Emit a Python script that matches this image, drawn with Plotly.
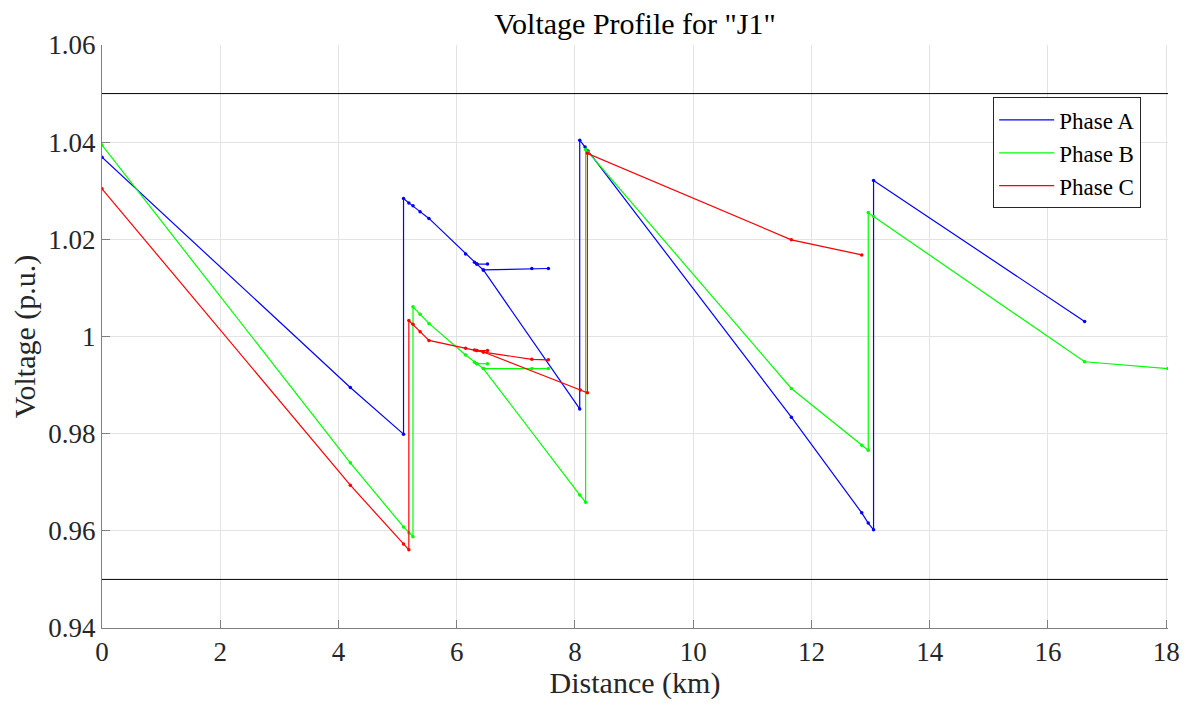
import plotly.graph_objects as go

# ---------------- data (distance km, voltage p.u.) ----------------
a_main_dist = [0, 4.20, 5.10, 5.10, 5.19, 5.26, 5.38, 5.53, 6.15, 6.30, 6.34, 6.45, 8.08, 8.08, 8.17, 8.22,
               11.66, 12.85, 12.96, 13.05, 13.05, 16.62]
a_main_volt = [1.0369, 0.9895, 0.9799, 1.0284, 1.0275, 1.0269, 1.0257, 1.0243, 1.0170, 1.0153, 1.0149, 1.0137,
               0.9851, 1.0404, 1.0390, 1.0382, 0.9834, 0.9637, 0.9616, 0.9602, 1.0321, 1.0031]
a_br1_dist = [6.34, 6.52]
a_br1_volt = [1.0149, 1.0149]
a_br2_dist = [6.45, 7.27, 7.55]
a_br2_volt = [1.0137, 1.0140, 1.0140]

b_main_dist = [0, 4.20, 5.10, 5.19, 5.26, 5.26, 5.38, 5.53, 6.15, 6.30, 6.34, 6.45, 8.08, 8.18, 8.18, 8.22,
               11.66, 12.85, 12.96, 12.96, 13.05, 16.62, 18.03]
b_main_volt = [1.0394, 0.9740, 0.9608, 0.9596, 0.9588, 1.0061, 1.0046, 1.0027, 0.9962, 0.9947, 0.9944, 0.9934,
               0.9674, 0.9659, 1.0385, 1.0380, 0.9893, 0.9776, 0.9766, 1.0255, 1.0247, 0.9948, 0.9934]
b_br1_dist = [6.34, 6.52]
b_br1_volt = [0.9944, 0.9944]
b_br2_dist = [6.45, 7.27, 7.55]
b_br2_volt = [0.9934, 0.9934, 0.9934]

c_main_dist = [0, 4.20, 5.10, 5.19, 5.19, 5.26, 5.38, 5.53, 6.15, 6.30, 6.34, 6.45, 8.09, 8.21, 8.21,
               11.66, 12.85]
c_main_volt = [1.0304, 0.9694, 0.9573, 0.9561, 1.0033, 1.0025, 1.0010, 0.9992, 0.9976, 0.9972, 0.9971, 0.9968,
               0.9890, 0.9884, 1.0377, 1.0199, 1.0168]
c_br1_dist = [6.34, 6.52]
c_br1_volt = [0.9971, 0.9971]
c_br2_dist = [6.45, 7.27, 7.55]
c_br2_volt = [0.9968, 0.9953, 0.9952]

phase_names = ["Phase A", "Phase B", "Phase C"]
phase_colors = ["#0000ff", "#00ff00", "#ff0000"]
upper_limit = 1.05
lower_limit = 0.95
x_max = 18.03

x_ticks = [0, 2, 4, 6, 8, 10, 12, 14, 16, 18]
y_ticks = [0.94, 0.96, 0.98, 1.00, 1.02, 1.04, 1.06]
y_tick_text = ["0.94", "0.96", "0.98", "1", "1.02", "1.04", "1.06"]

phases = [
    [(a_main_dist, a_main_volt), (a_br1_dist, a_br1_volt), (a_br2_dist, a_br2_volt)],
    [(b_main_dist, b_main_volt), (b_br1_dist, b_br1_volt), (b_br2_dist, b_br2_volt)],
    [(c_main_dist, c_main_volt), (c_br1_dist, c_br1_volt), (c_br2_dist, c_br2_volt)],
]

fig = go.Figure()

FONT = "Liberation Serif, Times New Roman, serif"

# limit lines
for lim in (upper_limit, lower_limit):
    fig.add_trace(go.Scatter(x=[0, x_max], y=[lim, lim], mode="lines",
                             line=dict(color="black", width=1), showlegend=False, hoverinfo="skip"))

for name, color, branches in zip(phase_names, phase_colors, phases):
    for d, v in branches:
        fig.add_trace(go.Scatter(x=d, y=v, mode="lines+markers", name=name,
                                 line=dict(color=color, width=1.2),
                                 marker=dict(color=color, size=3.5),
                                 showlegend=False))
    # legend entry (line only)
    fig.add_trace(go.Scatter(x=[None], y=[None], mode="lines", name=name,
                             line=dict(color=color, width=1.2), showlegend=True))

fig.update_layout(
    width=1172, height=692,
    paper_bgcolor="white", plot_bgcolor="white",
    margin=dict(l=94, r=12, t=37, b=72, autoexpand=False),
    font=dict(family=FONT, color="#262626", size=27),
    title=dict(text='Voltage Profile for "J1"', x=0.5, xref="paper", xanchor="center", y=0.993, yanchor="top",
               font=dict(family=FONT, size=30, color="black")),
    legend=dict(x=0.836, y=0.91, xanchor="left", yanchor="top",
                bgcolor="white", bordercolor="#262626", borderwidth=1,
                font=dict(family=FONT, size=23, color="black"),
                itemwidth=55, tracegroupgap=0),
    showlegend=True,
)

fig.update_xaxes(range=[0, x_max], tickvals=x_ticks, ticktext=[str(t) for t in x_ticks],
                 showgrid=True, gridcolor="#e3e3e3", gridwidth=1,
                 showline=True, linecolor="#808080", linewidth=1,
                 ticks="inside", ticklen=8, tickcolor="#808080",
                 zeroline=False,
                 title=dict(text="Distance (km)", font=dict(family=FONT, size=30, color="#262626"), standoff=6),
                 tickfont=dict(family=FONT, size=27, color="#262626"))
fig.update_yaxes(range=[0.94, 1.06], tickvals=y_ticks, ticktext=y_tick_text,
                 showgrid=True, gridcolor="#e3e3e3", gridwidth=1,
                 showline=True, linecolor="#808080", linewidth=1,
                 ticks="inside", ticklen=8, tickcolor="#808080",
                 zeroline=False,
                 title=dict(text="Voltage (p.u.)", font=dict(family=FONT, size=30, color="#262626"), standoff=6),
                 tickfont=dict(family=FONT, size=27, color="#262626"))

fig.write_html("out.html")
